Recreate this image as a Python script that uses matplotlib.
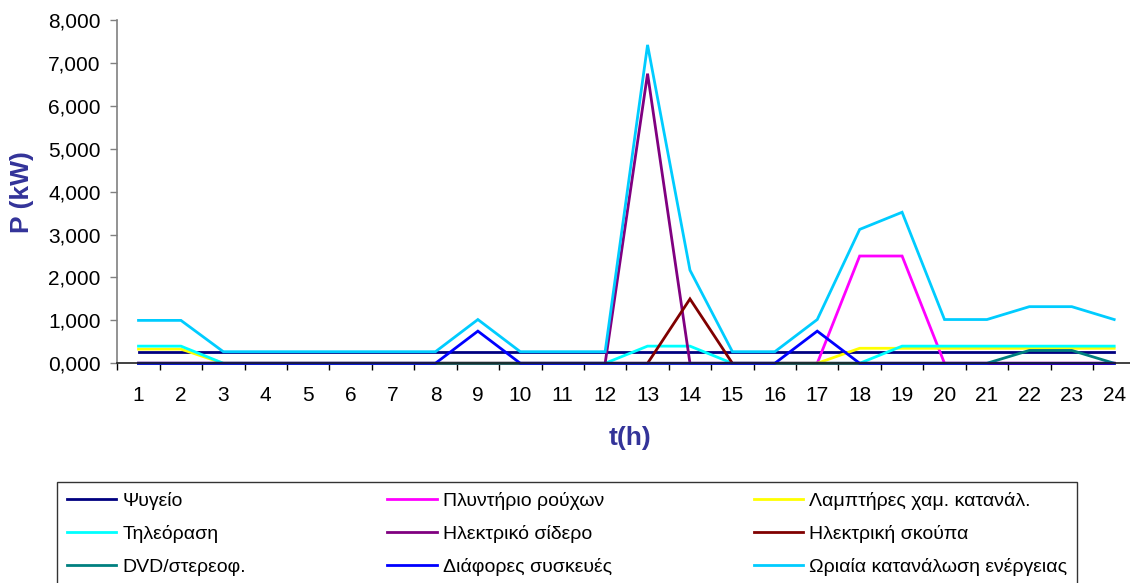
import matplotlib
matplotlib.use("Agg")
import matplotlib.pyplot as plt
from matplotlib.ticker import FixedLocator, FuncFormatter, NullFormatter

plt.rcParams['font.family'] = ['Liberation Sans', 'DejaVu Sans']

hours = list(range(1, 25))

fridge = [0.27, 0.27, 0.27, 0.27, 0.27, 0.27, 0.27, 0.27, 0.27, 0.27, 0.27, 0.27,
          0.27, 0.27, 0.27, 0.27, 0.27, 0.27, 0.27, 0.27, 0.27, 0.27, 0.27, 0.27]
washer = [0, 0, 0, 0, 0, 0, 0, 0, 0, 0, 0, 0,
          0, 0, 0, 0, 0, 2.5, 2.5, 0, 0, 0, 0, 0]
lamps = [0.33, 0.33, 0, 0, 0, 0, 0, 0, 0, 0, 0, 0,
         0, 0, 0, 0, 0, 0.35, 0.35, 0.35, 0.35, 0.35, 0.35, 0.35]
tv = [0.4, 0.4, 0, 0, 0, 0, 0, 0, 0, 0, 0, 0,
      0.4, 0.4, 0, 0, 0, 0, 0.4, 0.4, 0.4, 0.4, 0.4, 0.4]
iron = [0, 0, 0, 0, 0, 0, 0, 0, 0, 0, 0, 0,
        6.75, 0, 0, 0, 0, 0, 0, 0, 0, 0, 0, 0]
vacuum = [0, 0, 0, 0, 0, 0, 0, 0, 0, 0, 0, 0,
          0, 1.5, 0, 0, 0, 0, 0, 0, 0, 0, 0, 0]
dvd = [0, 0, 0, 0, 0, 0, 0, 0, 0, 0, 0, 0,
       0, 0, 0, 0, 0, 0, 0, 0, 0, 0.3, 0.3, 0]
misc = [0, 0, 0, 0, 0, 0, 0, 0, 0.75, 0, 0, 0,
        0, 0, 0, 0, 0.75, 0, 0, 0, 0, 0, 0, 0]
total = [1.00, 1.00, 0.27, 0.27, 0.27, 0.27, 0.27, 0.27, 1.02, 0.27, 0.27, 0.27,
         7.42, 2.17, 0.27, 0.27, 1.02, 3.12, 3.52, 1.02, 1.02, 1.32, 1.32, 1.02]

series = [
    ("Ψυγείο", fridge, "#000080"),
    ("Πλυντήριο ρούχων", washer, "#FF00FF"),
    ("Λαμπτήρες χαμ. κατανάλ.", lamps, "#FFFF00"),
    ("Τηλεόραση", tv, "#00FFFF"),
    ("Ηλεκτρικό σίδερο", iron, "#800080"),
    ("Ηλεκτρική σκούπα", vacuum, "#800000"),
    ("DVD/στερεοφ.", dvd, "#008080"),
    ("Διάφορες συσκευές", misc, "#0000FF"),
    ("Ωριαία κατανάλωση ενέργειας", total, "#00CCFF"),
]

W, H = 1130, 583
fig = plt.figure(figsize=(W / 100, H / 100), dpi=100)
ax = fig.add_axes([117.3 / W, 1 - 363.3 / H, (1135.4 - 117.3) / W, (363.3 - 20) / H])

handles = []
for label, values, color in series:
    ln, = ax.plot(hours, values, color=color, lw=2.0, label=label,
                  solid_joinstyle='miter', clip_on=False)
    handles.append(ln)

ax.set_xlim(0.5, 24.5)
ax.set_ylim(0, 8)

# category boundaries carry tick marks, category centres carry labels
ax.xaxis.set_major_locator(FixedLocator([h - 0.5 for h in hours] + [24.5]))
ax.xaxis.set_major_formatter(NullFormatter())
ax.xaxis.set_minor_locator(FixedLocator(hours))
ax.xaxis.set_minor_formatter(FuncFormatter(lambda v, p: f"{int(round(v))}"))
ax.tick_params(axis='x', which='major', direction='out', length=5, width=1, color='#000000')
ax.tick_params(axis='x', which='minor', length=0, pad=16, labelsize=15)

ax.set_yticks(range(0, 9))
ax.yaxis.set_major_formatter(FuncFormatter(lambda v, p: f"{v:.3f}".replace('.', ',')))
ax.tick_params(axis='y', direction='out', length=5, width=1, color='#808080', labelsize=15, pad=7)

for s in ('top', 'right'):
    ax.spines[s].set_visible(False)
ax.spines['left'].set_color('#808080')
ax.spines['bottom'].set_color('#202020')
ax.spines['left'].set_linewidth(1.2)
ax.spines['bottom'].set_linewidth(1.2)

fig.text(22 / W, 1 - 192 / H, "P (kW)", rotation=90, ha='center', va='center',
         fontsize=19, fontweight='bold', color='#333399')
fig.text(630 / W, 1 - 438 / H, "t(h)", ha='center', va='center',
         fontsize=19, fontweight='bold', color='#333399')

# legend is filled column by column, so reorder for row-wise reading
order = [0, 3, 6, 1, 4, 7, 2, 5, 8]
leg = fig.legend([handles[i] for i in order], [series[i][0] for i in order],
                 loc='upper left', ncol=3, mode='expand',
                 bbox_to_anchor=(57 / W, 1 - 582 / H, (1077 - 57) / W, (582 - 482) / H),
                 fontsize=14, frameon=True, fancybox=False, edgecolor='#000000',
                 handlelength=2.55, handletextpad=0.3, labelspacing=0.78,
                 borderpad=0.5, borderaxespad=0)
leg.get_frame().set_linewidth(1.0)

fig.savefig("out.png", dpi=100)
